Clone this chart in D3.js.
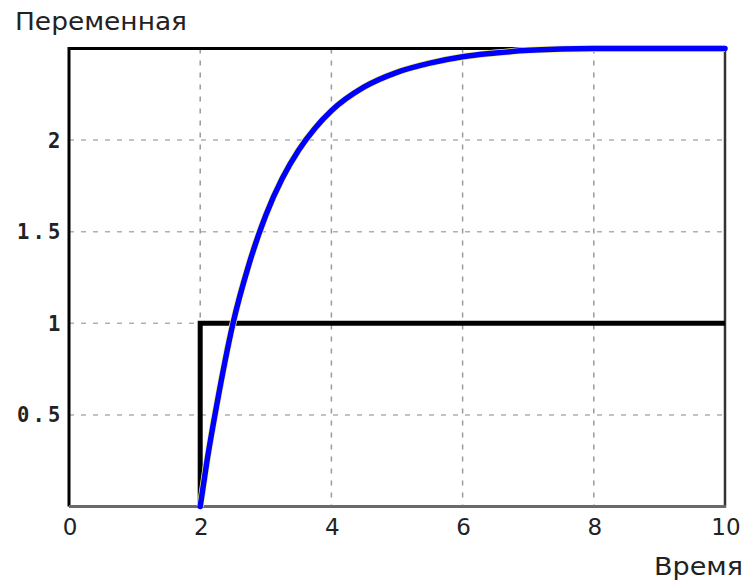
<!DOCTYPE html>
<html><head><meta charset="utf-8">
<script src="https://cdn.jsdelivr.net/npm/d3@7"></script>
<style>html,body{margin:0;padding:0;background:#fff;}svg{display:block;}</style>
</head><body>
<svg id="chart" width="746" height="583"></svg>
<script>
// Data
const responseTime  = [2, 2.1, 2.25, 2.5, 2.75, 3, 3.25, 3.5, 3.75, 4, 4.5, 5, 5.5, 6, 6.5, 7, 8, 9, 10];
const responseValue = [0, 0.24, 0.55, 1.0, 1.33, 1.59, 1.79, 1.945, 2.065, 2.16, 2.29, 2.37, 2.42, 2.455, 2.475, 2.49, 2.5, 2.5, 2.5];
const stepTime  = [2, 2, 10];
const stepValue = [0, 1, 1];
const xTicks = [0, 2, 4, 6, 8, 10];
const yTicks = [0.5, 1, 1.5, 2];
const yTickLabels = ["0.5", "1", "1.5", "2"];
const yLabel = "Переменная";
const xLabel = "Время";

const svg = d3.select("#chart");
const m = {left: 69, right: 725, top: 48.5, bottom: 506.5};
const x = d3.scaleLinear().domain([0, 10]).range([m.left, m.right]);
const y = d3.scaleLinear().domain([0, 2.5]).range([m.bottom, m.top]);

// grid
const grid = svg.append("g");
grid.selectAll("line.v").data(xTicks.filter(d => d > 0 && d < 10)).join("line")
  .attr("x1", d => x(d)).attr("x2", d => x(d)).attr("y1", m.top).attr("y2", m.bottom)
  .attr("stroke", "#9a9a9a").attr("stroke-width", 1.5).attr("stroke-dasharray", "5,7");
grid.selectAll("line.h").data(yTicks).join("line")
  .attr("x1", m.left).attr("x2", m.right).attr("y1", d => y(d)).attr("y2", d => y(d))
  .attr("stroke", "#b0b0b0").attr("stroke-width", 1.5).attr("stroke-dasharray", "5,7");

// frame
svg.append("line").attr("x1", m.left).attr("x2", m.right).attr("y1", m.top).attr("y2", m.top)
  .attr("stroke", "#000").attr("stroke-width", 3);
svg.append("line").attr("x1", m.left).attr("x2", m.left).attr("y1", m.top - 1.5).attr("y2", m.bottom)
  .attr("stroke", "#000").attr("stroke-width", 3);
svg.append("line").attr("x1", m.right).attr("x2", m.right).attr("y1", m.top - 1.5).attr("y2", m.bottom + 1)
  .attr("stroke", "#333").attr("stroke-width", 2.5);
svg.append("line").attr("x1", m.left).attr("x2", m.right + 1).attr("y1", m.bottom).attr("y2", m.bottom)
  .attr("stroke", "#6a6a6a").attr("stroke-width", 3);

// step line
const line = d3.line().x(d => x(d[0])).y(d => y(d[1]));
svg.append("path").datum(stepTime.map((t, i) => [t, stepValue[i]]))
  .attr("d", line).attr("fill", "none").attr("stroke", "#000").attr("stroke-width", 5)
  .attr("stroke-linejoin", "miter");

// response curve
const resp = responseTime.map((t, i) => [t, responseValue[i]]);
const curveLine = d3.line().x(d => x(d[0])).y(d => y(d[1])).curve(d3.curveMonotoneX);
svg.append("path").datum(resp).attr("d", curveLine).attr("fill", "none")
  .attr("stroke", "#f4f07a").attr("stroke-width", 7);
svg.append("path").datum(resp).attr("d", curveLine).attr("fill", "none")
  .attr("stroke", "#0000ff").attr("stroke-width", 5.5).attr("stroke-linecap", "round");

// axis labels
svg.selectAll("text.xt").data(xTicks).join("text")
  .attr("x", d => x(d) + 1).attr("y", 535)
  .attr("text-anchor", "middle")
  .attr("font-family", "DejaVu Sans").attr("font-size", 23).attr("fill", "#222")
  .text(d => d);
svg.selectAll("text.yt").data(yTicks).join("text")
  .attr("y", d => y(d) + 7.5)
  .attr("font-family", "DejaVu Sans Mono").attr("font-weight", "bold").attr("font-size", 20.5)
  .attr("fill", "#222")
  .each(function(d, i) {
    const s = yTickLabels[i];
    const cw = 15.5;
    const sel = d3.select(this).attr("text-anchor", "middle");
    sel.selectAll("tspan").data(s.split("")).join("tspan")
      .attr("x", (c, j) => 62 - (s.length - j - 0.5) * cw)
      .text(c => c);
  });

svg.append("text").attr("x", 15).attr("y", 30)
  .attr("font-family", "DejaVu Sans").attr("font-size", 24).attr("fill", "#222")
  .attr("textLength", 172).attr("lengthAdjust", "spacingAndGlyphs")
  .text(yLabel);
svg.append("text").attr("x", 654).attr("y", 575)
  .attr("font-family", "DejaVu Sans").attr("font-size", 25).attr("fill", "#222")
  .attr("textLength", 89).attr("lengthAdjust", "spacingAndGlyphs")
  .text(xLabel);
</script>
</body></html>
